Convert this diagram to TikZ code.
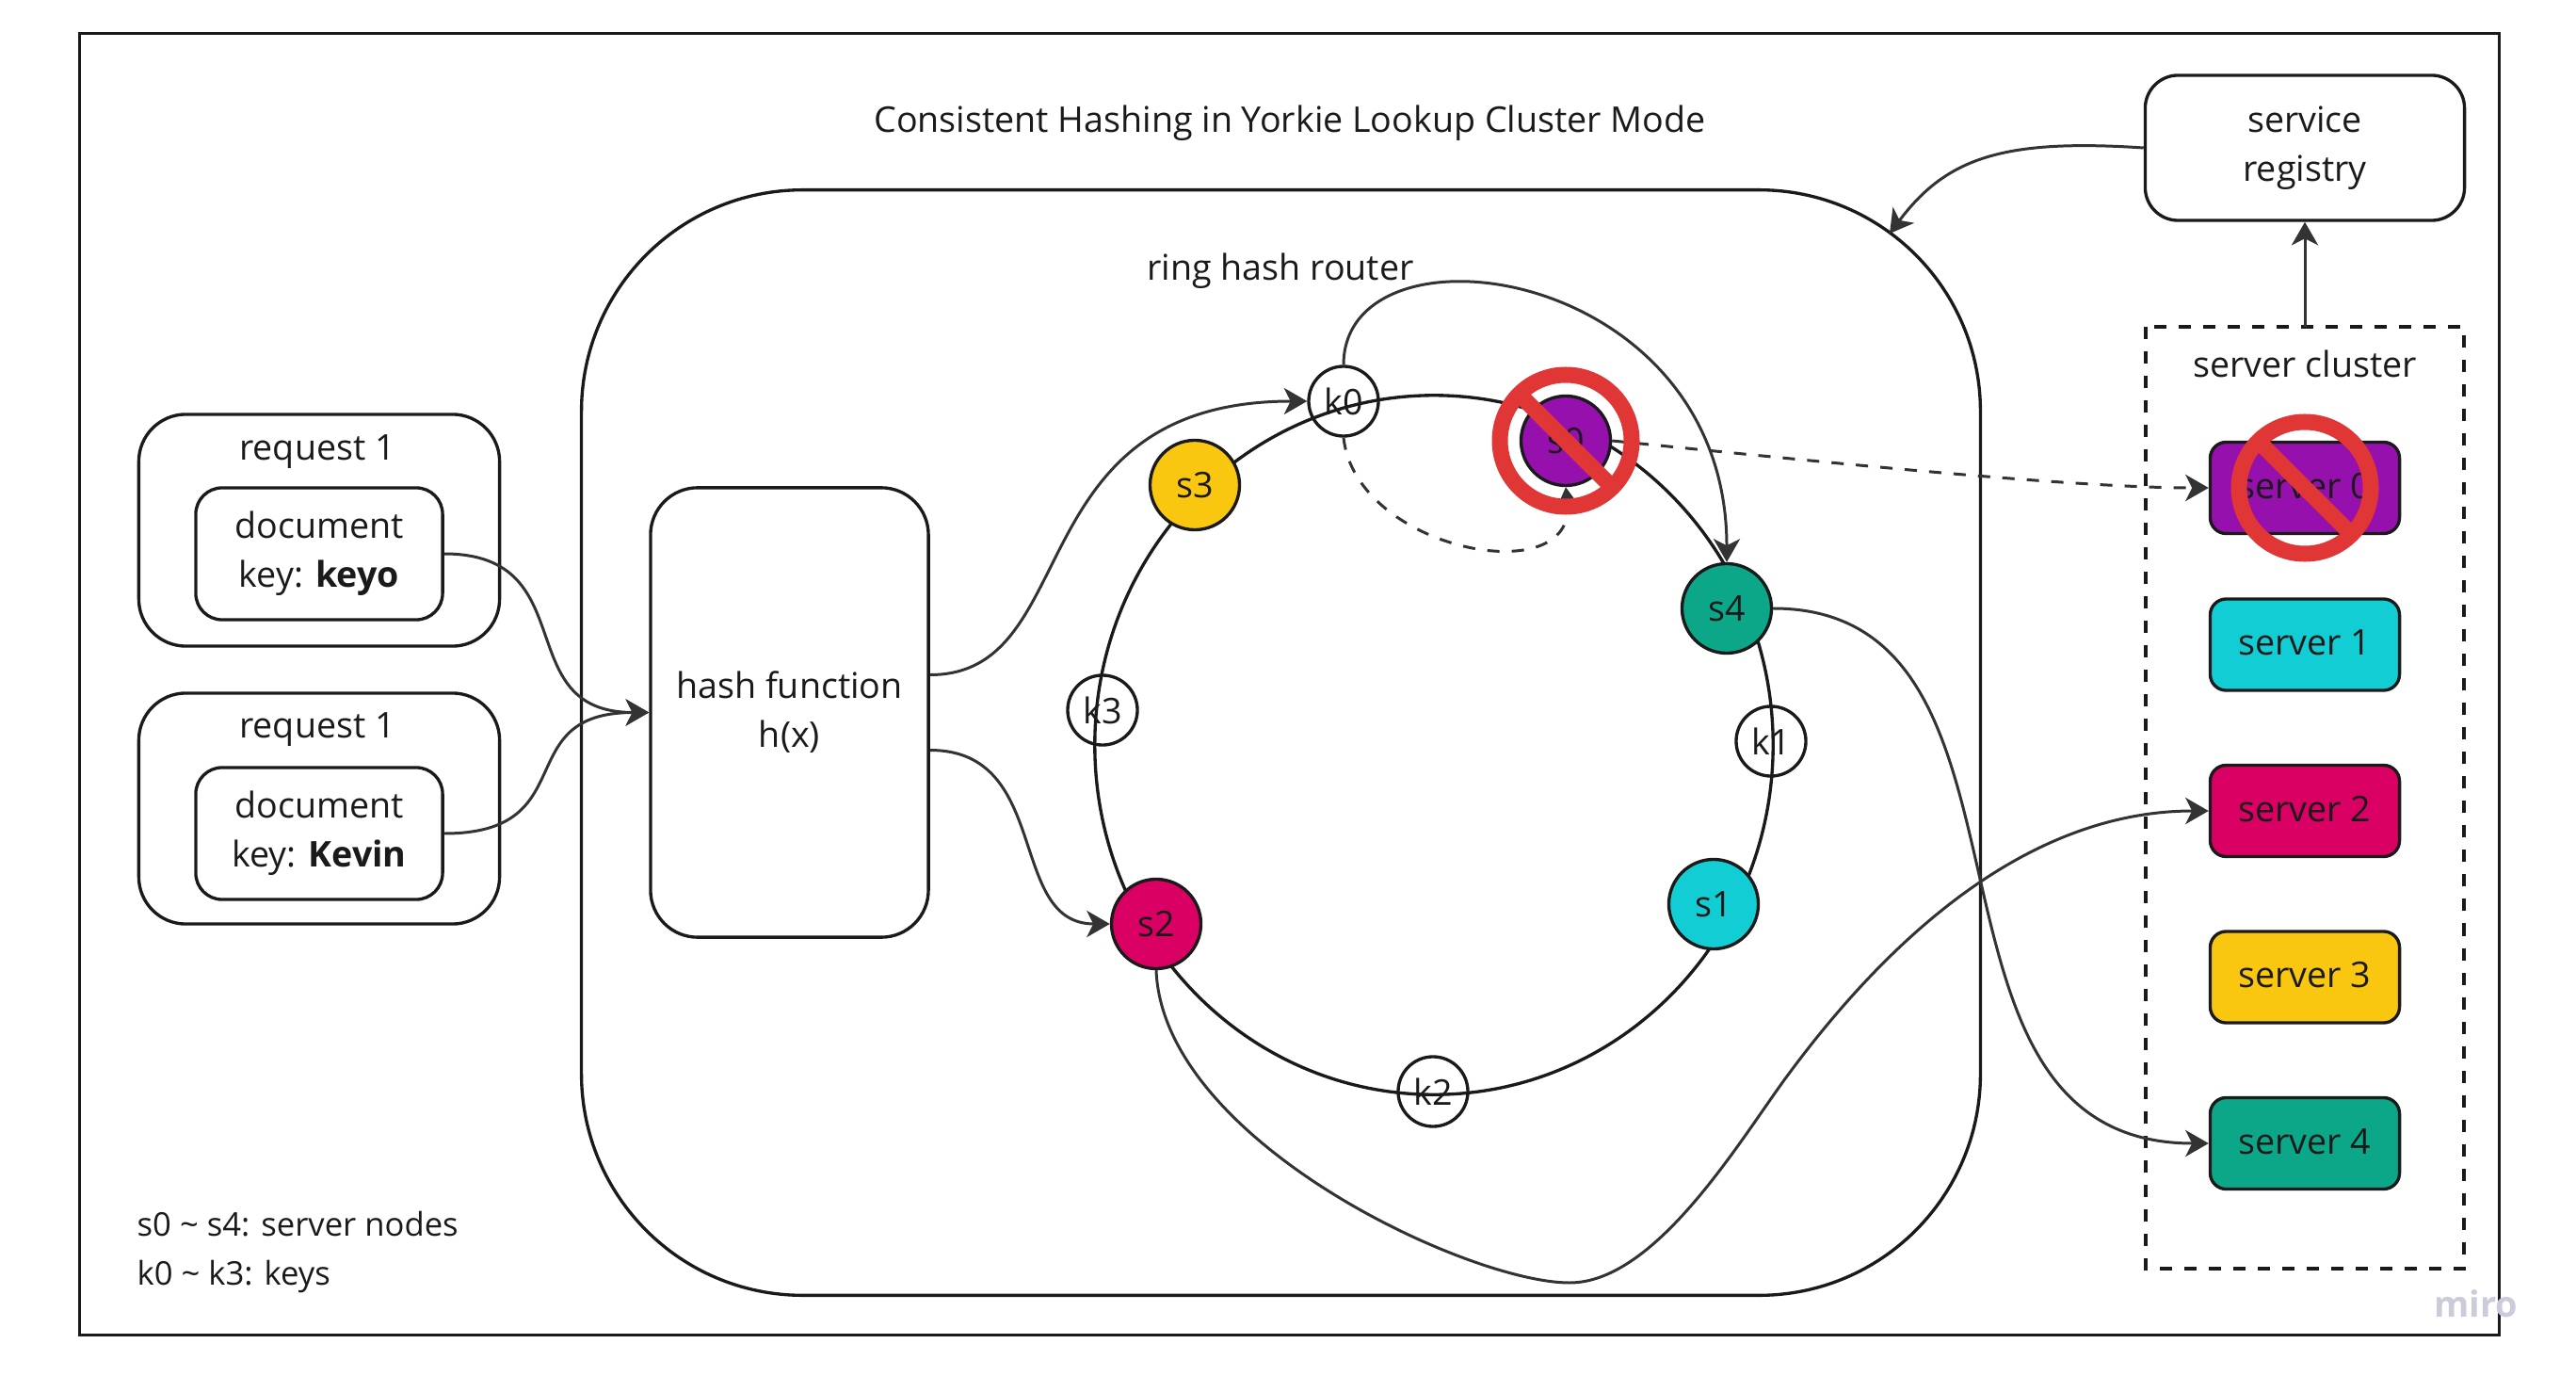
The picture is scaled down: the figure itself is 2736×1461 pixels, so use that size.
\documentclass[tikz,border=0pt]{standalone}
\usepackage{fontspec}
\setmainfont{Open Sans}
\usetikzlibrary{arrows.meta,shapes.geometric}
\definecolor{inkdark}{HTML}{1A1A1A}
\definecolor{linkgray}{HTML}{333333}
\definecolor{srvpurple}{HTML}{9510AC}
\definecolor{srvcyan}{HTML}{12CDD4}
\definecolor{srvpink}{HTML}{DA0063}
\definecolor{srvyellow}{HTML}{FAC710}
\definecolor{srvgreen}{HTML}{0CA789}
\definecolor{norred}{HTML}{E03636}
\definecolor{wmgray}{HTML}{CBCBDA}
\tikzset{
  every node/.style={font=\fontsize{10.7}{14.8}\selectfont, text=inkdark, inner sep=0pt, align=center},
  frameline/.style={draw=inkdark, line width=.95pt},
  box/.style={frameline, rounded corners=#1},
  snode/.style={frameline, circle, minimum size=.95cm},
  knode/.style={frameline, circle, minimum size=.74cm},
  srvbox/.style={frameline, rounded corners=.17cm, minimum width=2.01cm, minimum height=.97cm, text depth=.05cm},
  link/.style={draw=linkgray, line width=.85pt, -{Stealth[length=7pt,width=8pt,inset=2pt]}},
  dashlink/.style={link, dash pattern=on 3.7pt off 3.7pt},
  nosign/.pic={
    \draw[norred, line width=.17cm] (0,0) circle (70);
    \draw[norred, line width=.17cm] (-50,-50) -- (50,50);
  }
}
\begin{document}
\begin{tikzpicture}[x=.01cm,y=-.01cm]
\useasboundingbox (0,0) rectangle (2736,1461);
\node[frameline, minimum width=25.69cm, minimum height=13.81cm] (outer) at (1369.5,726.5) {};
\node (title) at (1370,131) {Consistent Hashing in Yorkie Lookup Cluster Mode};
\node[box=.35cm, minimum width=3.39cm, minimum height=1.54cm] (registry) at (2448,157) {service\\registry};

\node[box=2.35cm, minimum width=14.85cm, minimum height=11.73cm] (router) at (1360.5,788.5) {};
\node (routerlabel) at (1360,288) {ring hash router};
\coordinate (routercorner) at (2007,248);

\node[box=.5cm, minimum width=3.83cm, minimum height=2.46cm] (req1) at (339,563) {};
\node (req1label) at (337,480) {request 1};
\node[box=.28cm, minimum width=2.62cm, minimum height=1.4cm] (doc1) at (339,588) {document\\key: \textbf{keyo}};
\node[box=.5cm, minimum width=3.83cm, minimum height=2.45cm] (req2) at (339,858.5) {};
\node (req2label) at (337,775) {request 1};
\node[box=.28cm, minimum width=2.62cm, minimum height=1.4cm] (doc2) at (339,885) {document\\key: \textbf{Kevin}};

\node[box=.5cm, minimum width=2.95cm, minimum height=4.77cm] (hash) at (838.5,756.5) {hash function\\h(x)};

\node[frameline, ellipse, minimum width=7.2cm, minimum height=7.42cm] (ring) at (1523,791) {};
\node[snode, fill=srvpurple] (s0) at (1663,468) {s0};
\node[snode, fill=srvcyan] (s1) at (1820,960) {s1};
\node[snode, fill=srvpink] (s2) at (1228,981) {s2};
\node[snode, fill=srvyellow] (s3) at (1269,515) {s3};
\node[snode, fill=srvgreen] (s4) at (1834,646) {s4};
\node[knode] (k0) at (1427,426) {k0};
\node[knode] (k1) at (1881,787) {k1};
\node[knode] (k2) at (1522,1159) {k2};
\node[knode] (k3) at (1171,754) {k3};

\draw[dash pattern=on 3.7pt off 3.7pt, frameline] (2279,347) rectangle (2617,1347);
\coordinate (clustertop) at (2448,347);
\node (clusterlabel) at (2448,386) {server cluster};
\node[srvbox, fill=srvpurple] (srv0) at (2448,518) {server 0};
\node[srvbox, fill=srvcyan] (srv1) at (2448,684.5) {server 1};
\node[srvbox, fill=srvpink] (srv2) at (2448,861) {server 2};
\node[srvbox, fill=srvyellow] (srv3) at (2448,1037.5) {server 3};
\node[srvbox, fill=srvgreen] (srv4) at (2448,1214) {server 4};

\coordinate (bottomturn) at (1667,1362);
\coordinate (riseturn) at (1900,1140);

\draw[link] (doc1.east) .. controls +(150,0) and +(-150,0) .. (hash.west);
\draw[link] (doc2.east) .. controls +(150,0) and +(-150,0) .. (hash.west);
\draw[link] (hash.15.5) .. controls +(165,0) and +(-310,0) .. (k0.west);
\draw[link] (hash.-15.5) .. controls +(130,0) and +(-110,0) .. (s2.west);
\draw[link] (k0.north) .. controls +(0,-160) and +(0,-317) .. (s4.north);
\draw[dashlink] (k0.south) .. controls +(13,120) and +(12,112) .. (s0.south);
\draw[dashlink] (s0.east) .. controls +(200,20) and +(-150,0) .. (srv0.west);
\draw[link] (s4.east) .. controls +(311,0) and +(-338,0) .. (srv4.west);
\draw[link] (s2.south) .. controls +(7,181) and +(-107,0) .. (bottomturn) .. controls +(93,0) and +(-50,67) .. (riseturn) .. controls +(100,-135) and +(-198,0) .. (srv2.west);
\draw[link] (registry.west) .. controls +(-150,-10) and +(60,-80) .. (routercorner);
\draw[link] (clustertop) -- (registry.south);

\pic at (s0) {nosign};
\pic at (srv0) {nosign};

\node[anchor=west, align=left, font=\fontsize{9.85}{14.8}\selectfont] (legend1) at (145,1300) {s0 \textasciitilde{} s4: server nodes};
\node[anchor=west, align=left, font=\fontsize{9.85}{14.8}\selectfont] (legend2) at (145,1355) {k0 \textasciitilde{} k3: keys};
\node[text=wmgray, font=\fontsize{10.8}{15}\bfseries\selectfont] (miro) at (2630,1384) {miro};
\end{tikzpicture}
\end{document}
